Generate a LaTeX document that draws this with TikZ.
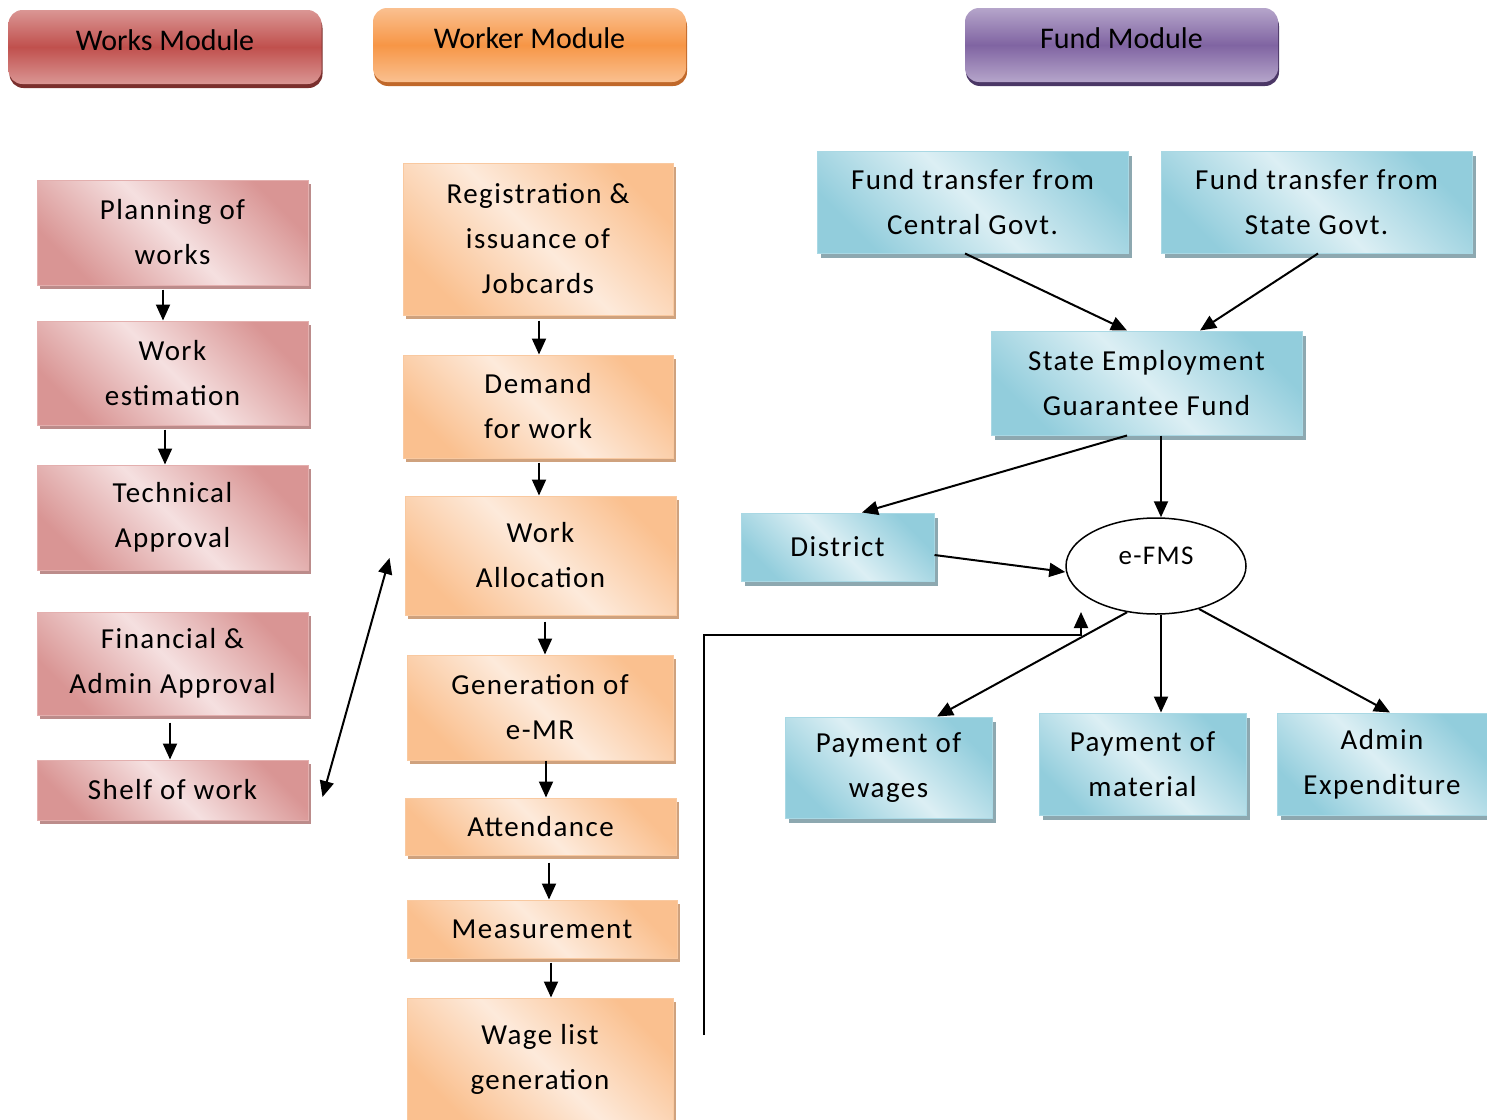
\documentclass[tikz,border=0pt]{standalone}
\usepackage{fontspec}
\setmainfont{Carlito}[LetterSpace=5]
\newfontfamily\hdrfont{Carlito}
\usetikzlibrary{shadows,arrows.meta,shapes.geometric}
\definecolor{pinkD}{HTML}{D99594}
\definecolor{pinkL}{HTML}{F5E0E0}
\definecolor{pinkB}{HTML}{E3AFAE}
\definecolor{pinkS}{HTML}{BC8C8B}
\definecolor{oranD}{HTML}{FAC08F}
\definecolor{oranL}{HTML}{FDEADB}
\definecolor{oranB}{HTML}{F9C9A0}
\definecolor{oranS}{HTML}{CFA27E}
\definecolor{blueD}{HTML}{92CDDC}
\definecolor{blueL}{HTML}{DCEFF4}
\definecolor{blueB}{HTML}{A9D8E4}
\definecolor{blueS}{HTML}{8DA8B0}
\definecolor{redH}{HTML}{C0504D}
\definecolor{redHL}{HTML}{DA9694}
\definecolor{redHS}{HTML}{7A2F2D}
\definecolor{orH}{HTML}{F79646}
\definecolor{orHL}{HTML}{FAC090}
\definecolor{orHS}{HTML}{C0682A}
\definecolor{puH}{HTML}{8064A2}
\definecolor{puHL}{HTML}{B5A5CA}
\definecolor{puHS}{HTML}{4B3766}
\tikzset{
  box/.style={rectangle, draw=#1, line width=1pt, inner sep=0pt, align=center,
    font=\fontsize{29}{45}\selectfont},
  pinkbox/.style={box=pinkB, left color=pinkD, right color=pinkD, middle color=pinkL,
    shading angle=-45, drop shadow={shadow xshift=3pt, shadow yshift=-4pt, fill=pinkS, opacity=1}},
  oranbox/.style={box=oranB, left color=oranD, right color=oranD, middle color=oranL,
    shading angle=-45, drop shadow={shadow xshift=3pt, shadow yshift=-4pt, fill=oranS, opacity=1}},
  bluebox/.style={box=blueB, left color=blueD, right color=blueD, middle color=blueL,
    shading angle=-45, drop shadow={shadow xshift=4pt, shadow yshift=-5pt, fill=blueS, opacity=1}},
  hdr/.style n args={3}{rectangle, rounded corners=14pt, draw=none, inner sep=0pt,
    top color=#2, bottom color=#2, middle color=#1,
    minimum width=313pt, minimum height=74pt, text height=15pt, text depth=9pt,
    font=\hdrfont\fontsize{30}{34}\selectfont,
    drop shadow={shadow xshift=1pt, shadow yshift=-4pt, fill=#3, opacity=1}},
  arr/.style={line width=2pt, -{Triangle[length=16pt,width=14pt]}},
  darr/.style={line width=2pt, {Triangle[length=16pt,width=14pt]}-{Triangle[length=16pt,width=14pt]}},
}
\begin{document}
\begin{tikzpicture}[x=1pt,y=-1pt]
\useasboundingbox (0,0) rectangle (1487,1119);
% headers
\node[hdr={redH}{redHL}{redHS}] (h1) at (165,47) {Works Module};
\node[hdr={orH}{orHL}{orHS}] (h2) at (529.5,45) {Worker Module};
\node[hdr={puH}{puHL}{puHS}] (h3) at (1121.5,45) {Fund Module};
% works module
\node[pinkbox, minimum width=271pt, minimum height=105pt] (p1) at (172.5,232.5) {Planning of\\works};
\node[pinkbox, minimum width=271pt, minimum height=104pt] (p2) at (172.5,373) {Work\\estimation};
\node[pinkbox, minimum width=271pt, minimum height=105pt] (p3) at (172.5,517.5) {Technical\\Approval};
\node[pinkbox, minimum width=271pt, minimum height=103pt] (p4) at (172.5,663.5) {Financial \&\\Admin Approval};
\node[pinkbox, minimum width=271pt, minimum height=60pt] (p5) at (172.5,790) {Shelf of work};
\draw[arr] ([xshift=-9.5pt,yshift=-4pt]p1.south) -- ([xshift=-9.5pt]p1.south |- p2.north);
\draw[arr] ([xshift=-7.5pt,yshift=-4pt]p2.south) -- ([xshift=-7.5pt]p2.south |- p3.north);
\draw[arr] ([xshift=-2.5pt,yshift=-7pt]p4.south) -- ([xshift=-2.5pt]p4.south |- p5.north);
% worker module
\node[oranbox, minimum width=270pt, minimum height=152pt] (o1) at (538,239) {Registration \&\\issuance of\\Jobcards};
\node[oranbox, minimum width=270pt, minimum height=103pt] (o2) at (538,406.5) {Demand\\for work};
\node[oranbox, minimum width=271pt, minimum height=119pt] (o3) at (540.5,555.5) {Work\\Allocation};
\node[oranbox, minimum width=266pt, minimum height=105pt] (o4) at (540,707.5) {Generation of\\e-MR};
\node[oranbox, minimum width=271pt, minimum height=57pt] (o5) at (540.5,826.5) {Attendance};
\node[oranbox, minimum width=270pt, minimum height=58pt] (o6) at (542,929) {Measurement};
\node[oranbox, minimum width=266pt, minimum height=122pt] (o7) at (540,1059) {Wage list\\generation};
\draw[arr] ([xshift=1pt,yshift=-5pt]o1.south) -- ([xshift=1pt]o1.south |- o2.north);
\draw[arr] ([xshift=1pt,yshift=-4pt]o2.south) -- ([xshift=1pt]o2.south |- o3.north);
\draw[arr] ([xshift=4.5pt,yshift=-6pt]o3.south) -- ([xshift=4.5pt]o3.south |- o4.north);
\draw[arr] ([xshift=6pt]o4.south) -- ([xshift=6pt]o4.south |- o5.north);
\draw[arr] ([xshift=8.5pt,yshift=-7pt]o5.south) -- ([xshift=8.5pt]o5.south |- o6.north);
\draw[arr] ([xshift=9pt,yshift=-4pt]o6.south) -- ([xshift=9pt]o6.south |- o7.north);
\draw[darr] ([xshift=14pt,yshift=-7pt]p5.east) -- ([xshift=-15pt,yshift=-2.5pt]o3.west);
% fund module
\node[bluebox, minimum width=311pt, minimum height=102pt] (c1) at (972.5,202) {Fund transfer from\\Central Govt.};
\node[bluebox, minimum width=311pt, minimum height=102pt] (c2) at (1316.5,202) {Fund transfer from\\State Govt.};
\node[bluebox, minimum width=311pt, minimum height=104pt] (sg) at (1146.5,383) {State Employment\\Guarantee Fund};
\node[bluebox, minimum width=193pt, minimum height=68pt] (di) at (837.5,547) {District};
\node[ellipse, draw, line width=1.5pt, fill=white, minimum width=180pt, minimum height=96pt, inner sep=0pt,
  text height=10pt, text depth=14pt, font=\fontsize{27}{30}\selectfont] (ef) at (1156,566) {e-FMS};
\node[bluebox, minimum width=207pt, minimum height=101pt] (w1) at (888.5,767.5) {Payment of\\wages};
\node[bluebox, minimum width=207pt, minimum height=102pt] (w2) at (1142.5,764) {Payment of\\material};
\node[bluebox, minimum width=210pt, minimum height=102pt] (w3) at (1382,764) {Admin\\Expenditure};
\draw[arr] ([xshift=-7.5pt]c1.south) -- ([xshift=-19.5pt]sg.north);
\draw[arr] ([xshift=1.5pt]c2.south) -- ([xshift=53.5pt]sg.north);
\draw[arr] ([xshift=-19.5pt]sg.south) -- ([xshift=24.5pt]di.north);
\draw[arr] ([xshift=14.5pt]sg.south) -- ([xshift=14.5pt]sg.south |- ef.north);
\draw[arr] ([yshift=-8pt]di.east) -- ([yshift=-6pt]ef.west);
\draw[arr] (ef.238) -- ([xshift=48.5pt]w1.north);
\draw[arr] ([xshift=5pt]ef.south) -- ([xshift=5pt]ef.south |- w2.north);
\draw[arr] (ef.315) -- ([xshift=8pt]w3.north);
\coordinate (fb) at (704,1035);
\coordinate (fbturn) at (704,635);
\coordinate (fbend) at (1081,612);
\draw[arr] (fb) -- (fbturn) -| (fbend);
\end{tikzpicture}
\end{document}
